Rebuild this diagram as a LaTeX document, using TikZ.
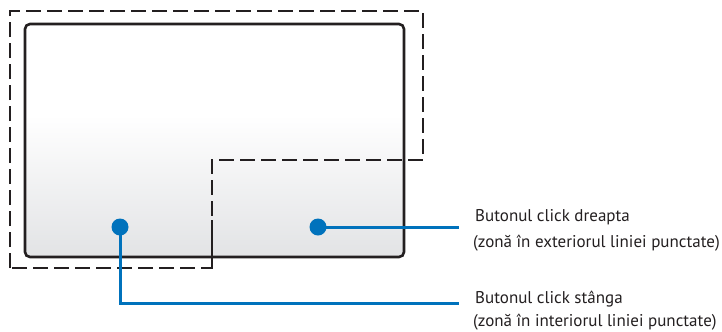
\documentclass[tikz,border=0pt]{standalone}
\usepackage{fontspec}
\setmainfont{PT Sans}
\definecolor{padblue}{HTML}{0072BC}
\definecolor{padline}{HTML}{231F20}
\definecolor{padgrey}{HTML}{E2E3E5}
\begin{document}
\begin{tikzpicture}[x=1bp,y=-1bp,
		dot/.style={circle,fill=padblue,minimum size=17bp,inner sep=0pt},
		lead/.style={padblue,line width=3bp},
		zone/.style={padline,line width=1.6bp,dash pattern=on 15bp off 6bp},
		lbl/.style={anchor=base west,inner sep=0pt,font=\fontsize{17bp}{20bp}\selectfont,text=padline}]
	\useasboundingbox (0,0) rectangle (722,331);
	% touchpad
	\begin{scope}
		\clip[rounded corners=5bp] (25,24) rectangle (404,257);
		\fill[white] (25,24) rectangle (404,257);
		\shade[top color=white,bottom color=padgrey] (25,115) rectangle (404,257);
	\end{scope}
	\draw[padline,line width=2.6bp,rounded corners=5bp] (25,24) rectangle (404,257);
	% dashed zone
	\draw[zone] (10,268) -- (10,11) -- (423,11) -- (423,160) -- (212,160) -- (212,268) -- cycle;
	\draw[padline,line width=1.6bp] (212,220) -- (212,267);
	% buttons
	\node[dot] (dotL) at (120,227) {};
	\node[dot] (dotR) at (318,227) {};
	\node[lbl] (lblR) at (475,221) {Butonul click dreapta};
	\node[lbl] (lblRb) at (473,247) {(zonă în exteriorul liniei punctate)};
	\node[lbl] (lblL) at (475,303) {Butonul click stânga};
	\node[lbl] (lblLb) at (473,326) {(zonă în interiorul liniei punctate)};
	\coordinate (endR) at (459,227);
	\coordinate (endL) at (459,303);
	\draw[lead] (dotR.center) -- (endR);
	\draw[lead] (dotL.center) |- (endL);
\end{tikzpicture}
\end{document}
